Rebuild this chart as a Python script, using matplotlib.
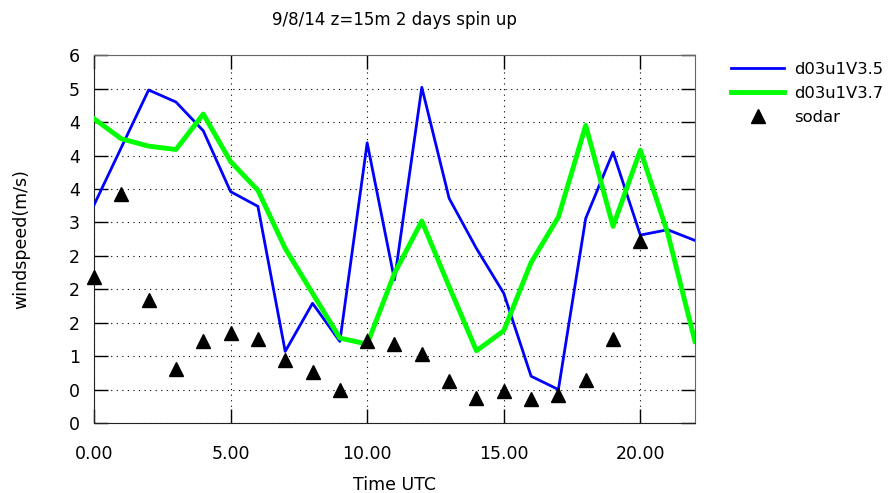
import matplotlib
matplotlib.use('Agg')
import matplotlib.pyplot as plt
from matplotlib.ticker import FormatStrFormatter, MultipleLocator

hours = list(range(23))
d03u1v35 = [3.26, 4.12, 4.98, 4.80, 4.37, 3.46, 3.24, 1.07, 1.79, 1.22, 4.19, 2.14,
            5.02, 3.36, 2.61, 1.94, 0.70, 0.50, 3.06, 4.05, 2.81, 2.89, 2.73]
d03u1v37 = [4.55, 4.25, 4.14, 4.09, 4.62, 3.91, 3.48, 2.61, 1.94, 1.27, 1.18, 2.24,
            3.02, 2.04, 1.08, 1.38, 2.40, 3.08, 4.45, 2.94, 4.08, 2.84, 1.22]
sodar_hours = list(range(21))
sodar = [2.18, 3.43, 1.84, 0.81, 1.22, 1.34, 1.25, 0.94, 0.76, 0.49, 1.22, 1.18,
         1.03, 0.63, 0.37, 0.48, 0.36, 0.42, 0.64, 1.25, 2.72]

fig = plt.figure(figsize=(8.91, 4.93), dpi=100)
ax = fig.add_axes([0.1055, 0.142, 0.6745, 0.746])

ax.plot(hours, d03u1v35, color='#0000ff', lw=2, label='d03u1V3.5', zorder=3)
ax.plot(hours, d03u1v37, color='#00ff00', lw=3.5, label='d03u1V3.7', zorder=3)
ax.plot(sodar_hours, sodar, '^', color='black', ms=10.5, label='sodar',
        clip_on=False, zorder=4)

ax.set_xlim(0, 22)
ax.set_ylim(0, 5.5)
ax.xaxis.set_major_locator(MultipleLocator(5))
ax.yaxis.set_major_locator(MultipleLocator(0.5))
ax.xaxis.set_major_formatter(FormatStrFormatter('%.2f'))
ax.yaxis.set_major_formatter(FormatStrFormatter('%.0f'))
ax.tick_params(direction='in', length=10, width=1, labelsize=12.5,
               top=True, right=True)
ax.tick_params(axis='x', pad=16)
ax.tick_params(axis='y', pad=10)

ax.grid(True, color='black', linestyle=(0, (1, 4)), lw=0.8)
for side in ['top', 'right']:
    ax.spines[side].set_color('#666666')
for side in ['left', 'bottom']:
    ax.spines[side].set_color('#222222')

ax.set_title('9/8/14 z=15m 2 days spin up', fontsize=12, pad=22)
ax.set_xlabel('Time UTC', fontsize=12.5, labelpad=9)
ax.set_ylabel('windspeed(m/s)', fontsize=12.5, labelpad=28)

fig.legend(loc='upper left', bbox_to_anchor=(0.808, 0.898), frameon=False,
           fontsize=11.8, handlelength=3.2, labelspacing=0.55, handletextpad=0.6,
           borderpad=0.2)

fig.savefig('out.png', dpi=100)
